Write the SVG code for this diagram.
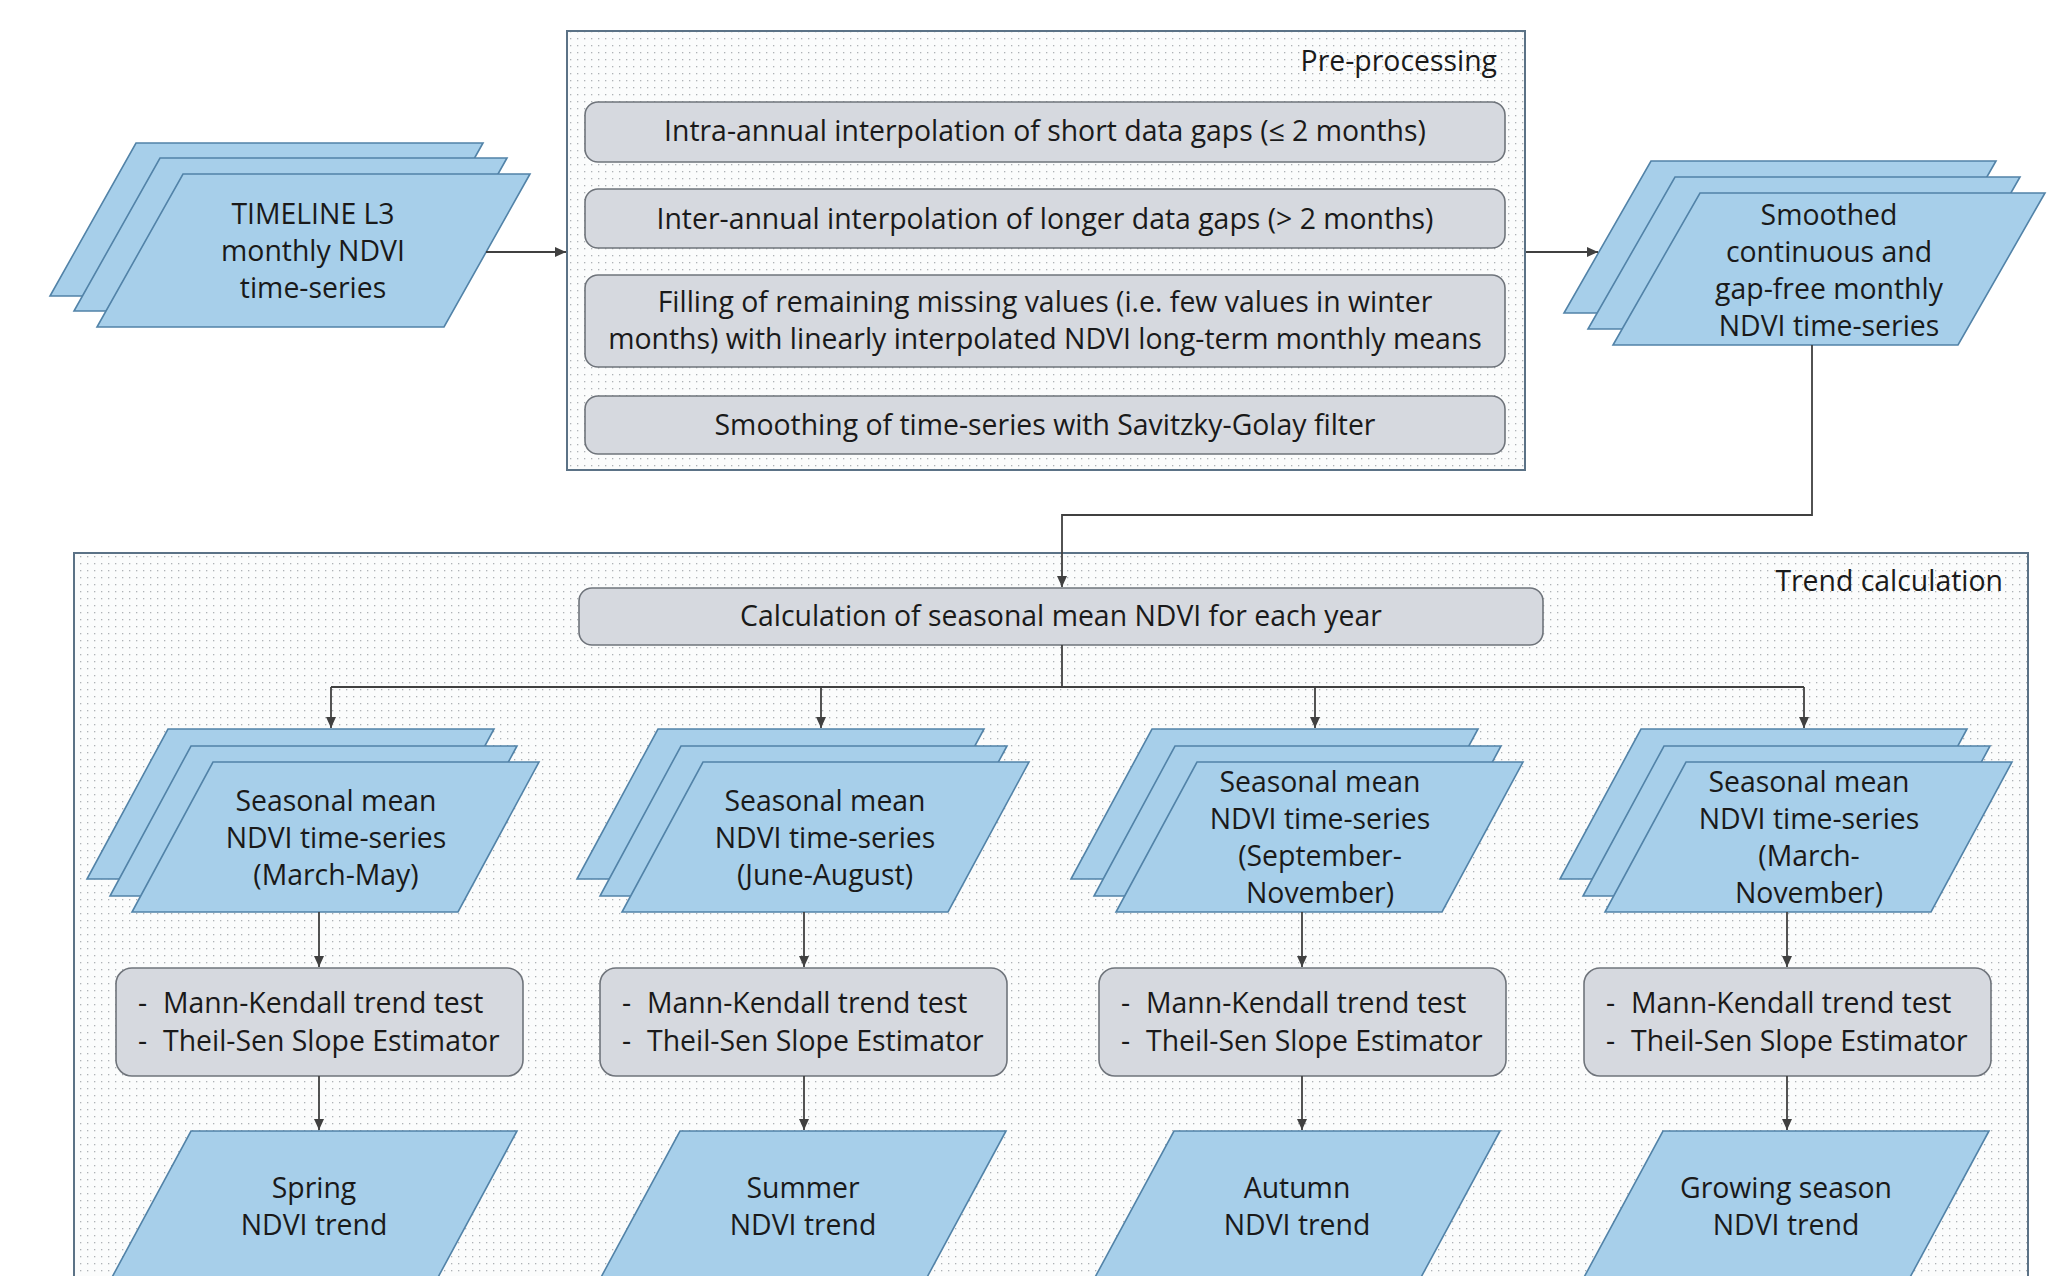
<svg xmlns="http://www.w3.org/2000/svg" width="2072" height="1276" viewBox="0 0 2072 1276">
<defs>
<pattern id="dots" width="7" height="7" patternUnits="userSpaceOnUse">
<rect width="7" height="7" fill="#fbfcfc"/>
<rect x="3" y="3" width="1.3" height="1.3" fill="#aeb2b6"/>
</pattern>
<marker id="arr" markerUnits="userSpaceOnUse" markerWidth="12" markerHeight="10" refX="11" refY="5" orient="auto">
<path d="M0,0 L11,5 L0,10 z" fill="#404040"/>
</marker>
<style>
text{font-family:"Open Sans","Noto Sans","DejaVu Sans",sans-serif;font-size:28.4px;fill:#1a1a1a}
.c{text-anchor:middle}
.e{text-anchor:end}
.blue{fill:#a7cfea;stroke:#5283a8;stroke-width:1.6}
.grey{fill:#d6d9df;stroke:#6f747b;stroke-width:1.6}
.cont{fill:url(#dots);stroke:#5b7286;stroke-width:2}
.ln{fill:none;stroke:#404040;stroke-width:1.8}
</style>
</defs>
<rect width="2072" height="1276" fill="#ffffff"/>

<g id="preprocessing">
<rect class="cont" x="567" y="31" width="958" height="439"/>
<text class="e" x="1497" y="71">Pre-processing</text>
</g>
<g id="trend-calculation">
<rect class="cont" x="74" y="553" width="1954" height="740"/>
<text class="e" x="2003" y="591">Trend calculation</text>
</g>

<g id="input">
<polygon class="blue" points="136,143 483,143 397,296 50,296"/>
<polygon class="blue" points="160,158 507,158 421,311 74,311"/>
<polygon class="blue" points="183,174 530,174 444,327 97,327"/>
<text class="c" x="313" y="224">TIMELINE L3</text>
<text class="c" x="313" y="261">monthly NDVI</text>
<text class="c" x="313" y="298">time-series</text>
</g>

<g id="step1">
<rect class="grey" x="585" y="102" width="920" height="60" rx="13"/>
<text class="c" x="1045" y="141">Intra-annual interpolation of short data gaps (≤ 2 months)</text>
</g>
<g id="step2">
<rect class="grey" x="585" y="189" width="920" height="59" rx="13"/>
<text class="c" x="1045" y="229">Inter-annual interpolation of longer data gaps (&gt; 2 months)</text>
</g>
<g id="step3">
<rect class="grey" x="585" y="275" width="920" height="92" rx="13"/>
<text class="c" x="1045" y="312">Filling of remaining missing values (i.e. few values in winter</text>
<text class="c" x="1045" y="349">months) with linearly interpolated NDVI long-term monthly means</text>
</g>
<g id="step4">
<rect class="grey" x="585" y="396" width="920" height="58" rx="13"/>
<text class="c" x="1045" y="435">Smoothing of time-series with Savitzky-Golay filter</text>
</g>

<g id="smoothed">
<polygon class="blue" points="1651,161 1996,161 1909,313 1564,313"/>
<polygon class="blue" points="1675,177 2020,177 1933,329 1588,329"/>
<polygon class="blue" points="1700,193 2045,193 1958,345 1613,345"/>
<text class="c" x="1829" y="225">Smoothed</text>
<text class="c" x="1829" y="262">continuous and</text>
<text class="c" x="1829" y="299">gap-free monthly</text>
<text class="c" x="1829" y="336">NDVI time-series</text>
</g>

<g id="calc">
<rect class="grey" x="579" y="588" width="964" height="57" rx="13"/>
<text class="c" x="1061" y="626">Calculation of seasonal mean NDVI for each year</text>
</g>

<g id="series-spring">
<polygon class="blue" points="168,729 494,729 413,879 87,879"/>
<polygon class="blue" points="191,746 517,746 436,896 110,896"/>
<polygon class="blue" points="213,762 539,762 458,912 132,912"/>
<text class="c" x="336" y="811">Seasonal mean</text>
<text class="c" x="336" y="848">NDVI time-series</text>
<text class="c" x="336" y="885">(March-May)</text>
</g>
<g id="series-summer">
<polygon class="blue" points="658,729 984,729 903,879 577,879"/>
<polygon class="blue" points="681,746 1007,746 926,896 600,896"/>
<polygon class="blue" points="703,762 1029,762 948,912 622,912"/>
<text class="c" x="825" y="811">Seasonal mean</text>
<text class="c" x="825" y="848">NDVI time-series</text>
<text class="c" x="825" y="885">(June-August)</text>
</g>
<g id="series-autumn">
<polygon class="blue" points="1152,729 1478,729 1397,879 1071,879"/>
<polygon class="blue" points="1175,746 1501,746 1420,896 1094,896"/>
<polygon class="blue" points="1197,762 1523,762 1442,912 1116,912"/>
<text class="c" x="1320" y="792">Seasonal mean</text>
<text class="c" x="1320" y="829">NDVI time-series</text>
<text class="c" x="1320" y="866">(September-</text>
<text class="c" x="1320" y="903">November)</text>
</g>
<g id="series-growing">
<polygon class="blue" points="1641,729 1967,729 1886,879 1560,879"/>
<polygon class="blue" points="1664,746 1990,746 1909,896 1583,896"/>
<polygon class="blue" points="1686,762 2012,762 1931,912 1605,912"/>
<text class="c" x="1809" y="792">Seasonal mean</text>
<text class="c" x="1809" y="829">NDVI time-series</text>
<text class="c" x="1809" y="866">(March-</text>
<text class="c" x="1809" y="903">November)</text>
</g>

<g id="test-spring">
<rect class="grey" x="116" y="968" width="407" height="108" rx="16"/>
<text x="138" y="1013">-</text><text x="163" y="1013">Mann-Kendall trend test</text>
<text x="138" y="1051">-</text><text x="163" y="1051">Theil-Sen Slope Estimator</text>
</g>
<g id="test-summer">
<rect class="grey" x="600" y="968" width="407" height="108" rx="16"/>
<text x="622" y="1013">-</text><text x="647" y="1013">Mann-Kendall trend test</text>
<text x="622" y="1051">-</text><text x="647" y="1051">Theil-Sen Slope Estimator</text>
</g>
<g id="test-autumn">
<rect class="grey" x="1099" y="968" width="407" height="108" rx="16"/>
<text x="1121" y="1013">-</text><text x="1146" y="1013">Mann-Kendall trend test</text>
<text x="1121" y="1051">-</text><text x="1146" y="1051">Theil-Sen Slope Estimator</text>
</g>
<g id="test-growing">
<rect class="grey" x="1584" y="968" width="407" height="108" rx="16"/>
<text x="1606" y="1013">-</text><text x="1631" y="1013">Mann-Kendall trend test</text>
<text x="1606" y="1051">-</text><text x="1631" y="1051">Theil-Sen Slope Estimator</text>
</g>

<g id="trend-spring">
<polygon class="blue" points="191,1131 517,1131 436,1281 110,1281"/>
<text class="c" x="314" y="1198">Spring</text>
<text class="c" x="314" y="1235">NDVI trend</text>
</g>
<g id="trend-summer">
<polygon class="blue" points="680,1131 1006,1131 925,1281 599,1281"/>
<text class="c" x="803" y="1198">Summer</text>
<text class="c" x="803" y="1235">NDVI trend</text>
</g>
<g id="trend-autumn">
<polygon class="blue" points="1174,1131 1500,1131 1419,1281 1093,1281"/>
<text class="c" x="1297" y="1198">Autumn</text>
<text class="c" x="1297" y="1235">NDVI trend</text>
</g>
<g id="trend-growing">
<polygon class="blue" points="1663,1131 1989,1131 1908,1281 1582,1281"/>
<text class="c" x="1786" y="1198">Growing season</text>
<text class="c" x="1786" y="1235">NDVI trend</text>
</g>

<g id="connectors">
<path class="ln" d="M486,252 H566" marker-end="url(#arr)"/>
<path class="ln" d="M1526,252 H1598" marker-end="url(#arr)"/>
<path class="ln" d="M1812,345 V515 H1062 V587" marker-end="url(#arr)"/>
<path class="ln" d="M1062,645 V687"/>
<path class="ln" d="M331,687 H1804"/>
<path class="ln" d="M331,687 V728" marker-end="url(#arr)"/>
<path class="ln" d="M821,687 V728" marker-end="url(#arr)"/>
<path class="ln" d="M1315,687 V728" marker-end="url(#arr)"/>
<path class="ln" d="M1804,687 V728" marker-end="url(#arr)"/>
<path class="ln" d="M319,912 V967" marker-end="url(#arr)"/>
<path class="ln" d="M804,912 V967" marker-end="url(#arr)"/>
<path class="ln" d="M1302,912 V967" marker-end="url(#arr)"/>
<path class="ln" d="M1787,912 V967" marker-end="url(#arr)"/>
<path class="ln" d="M319,1076 V1130" marker-end="url(#arr)"/>
<path class="ln" d="M804,1076 V1130" marker-end="url(#arr)"/>
<path class="ln" d="M1302,1076 V1130" marker-end="url(#arr)"/>
<path class="ln" d="M1787,1076 V1130" marker-end="url(#arr)"/>
</g>
</svg>
